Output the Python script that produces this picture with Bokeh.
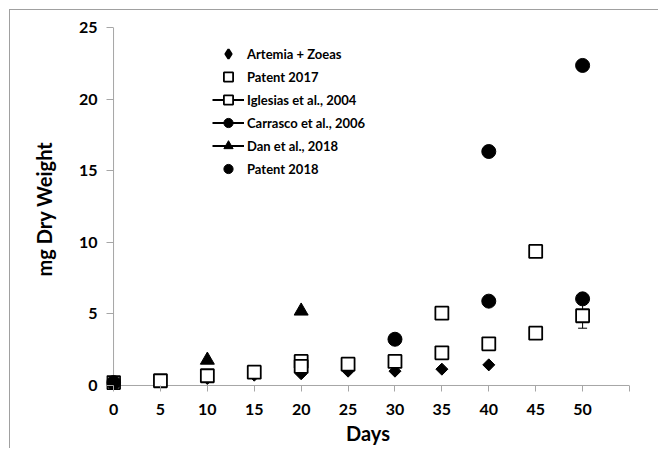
import numpy as np
from bokeh.plotting import figure
from bokeh.models import (FixedTicker, Legend, LegendItem, Whisker, ColumnDataSource,
                          TeeHead, Range1d, Span)
from bokeh.embed import file_html
from bokeh.resources import INLINE

# ---- data ----
days_artemia = [0, 10, 15, 20, 25, 30, 35, 40]
artemia_zoeas = [0.2, 0.49, 0.72, 0.82, 1.0, 1.0, 1.14, 1.44]

days_patent2017 = [0, 5, 10, 15, 20, 25, 30, 35, 40, 45, 50]
patent2017 = [0.2, 0.33, 0.68, 0.93, 1.33, 1.49, 1.68, 2.28, 2.91, 3.65, 4.87]

err_days = [50]
err_lower = [4.0]
err_upper = [5.74]

days_iglesias = [20, 35, 45]
iglesias2004 = [1.68, 5.05, 9.36]

days_carrasco = [30, 40, 50]
carrasco2006 = [3.23, 5.89, 6.05]

days_dan = [10, 20]
dan2018 = [1.77, 5.2]

days_patent2018 = [0, 40, 50]
patent2018 = [0.2, 16.34, 22.35]

x_ticks = [0, 5, 10, 15, 20, 25, 30, 35, 40, 45, 50, 55]
x_tick_labels = ["0", "5", "10", "15", "20", "25", "30", "35", "40", "45", "50", ""]
y_ticks = [0, 5, 10, 15, 20, 25]

AXIS_GRAY = "#a6a6a6"
TICK_FONT = "Lato"

p = figure(width=649, height=439, output_backend="svg", toolbar_location=None,
           x_range=Range1d(-0.75, 55), y_range=Range1d(-0.35, 25),
           min_border_left=96, min_border_right=30, min_border_top=17, min_border_bottom=59)
p.styles = {"margin-left": "9px", "margin-top": "9px",
            "border-left": "1px solid #a0a0a0", "border-top": "1px solid #a0a0a0"}
p.outline_line_color = None
p.xgrid.grid_line_color = None
p.ygrid.grid_line_color = None
p.background_fill_color = "white"
p.border_fill_color = "white"

# axes
xa = p.xaxis[0]
xa.ticker = FixedTicker(ticks=x_ticks)
xa.major_label_overrides = {t: lab for t, lab in zip(x_ticks, x_tick_labels)}
xa.axis_line_color = None
xa.major_tick_line_color = AXIS_GRAY
xa.major_tick_in = 5
xa.major_tick_out = 1
xa.minor_tick_line_color = None
xa.major_label_text_font = TICK_FONT
xa.major_label_text_font_style = "bold"
xa.major_label_text_font_size = "16px"
xa.major_label_text_color = "black"
xa.major_label_standoff = 12
xa.axis_label = "Days"
xa.axis_label_text_font = TICK_FONT
xa.axis_label_text_font_style = "bold"
xa.axis_label_text_font_size = "20px"
xa.axis_label_text_color = "black"
xa.axis_label_standoff = 3

ya = p.yaxis[0]
ya.ticker = FixedTicker(ticks=y_ticks)
ya.axis_line_color = None
ya.major_tick_line_color = AXIS_GRAY
ya.major_tick_in = 7
ya.major_tick_out = 0
ya.minor_tick_line_color = None
ya.major_label_text_font = TICK_FONT
ya.major_label_text_font_style = "bold"
ya.major_label_text_font_size = "16px"
ya.major_label_text_color = "black"
ya.major_label_standoff = 9
ya.axis_label = "mg Dry Weight"
ya.axis_label_text_font = TICK_FONT
ya.axis_label_text_font_style = "bold"
ya.axis_label_text_font_size = "20px"
ya.axis_label_text_color = "black"
ya.axis_label_standoff = 20

# axis lines at the zero positions
p.add_layout(Span(location=0, dimension="height", line_color=AXIS_GRAY, line_width=1, level="underlay"))
p.add_layout(Span(location=0, dimension="width", line_color=AXIS_GRAY, line_width=1, level="underlay"))

# error bar on Patent 2017 at day 50
err_src = ColumnDataSource(dict(base=err_days, lower=err_lower, upper=err_upper))
wh = Whisker(source=err_src, base="base", lower="lower", upper="upper", dimension="height",
             line_color="black", line_width=1,
             upper_head=TeeHead(size=9, line_color="black", line_width=1),
             lower_head=TeeHead(size=9, line_color="black", line_width=1),
             level="underlay")
p.add_layout(wh)

r_art = p.scatter(days_artemia, artemia_zoeas, marker="square", angle=np.pi / 4, size=8.5,
                  fill_color="black", line_color="black", line_width=1)
r_igl = p.scatter(days_iglesias, iglesias2004, marker="square", size=13,
                  fill_color="white", line_color="black", line_width=1.8)
r_p17 = p.scatter(days_patent2017, patent2017, marker="square", size=13,
                  fill_color="white", line_color="black", line_width=1.8)
r_car = p.scatter(days_carrasco, carrasco2006, marker="circle", size=14,
                  fill_color="black", line_color="black", line_width=1)
r_dan = p.scatter(days_dan, dan2018, marker="triangle", size=14,
                  fill_color="black", line_color="black", line_width=1)
r_p18 = p.scatter(days_patent2018, patent2018, marker="circle", size=14,
                  fill_color="black", line_color="black", line_width=1)

# legend-only samples (no connecting lines are visible in the chart;
# legend markers ignore rotation, so the diamond key uses a diamond marker)
nan_pt = [float("nan")]
k_art = p.scatter(nan_pt, nan_pt, marker="diamond", size=12,
                  fill_color="black", line_color="black", line_width=2.2)
l_igl = p.line(nan_pt, nan_pt, line_color="black", line_width=2)
l_car = p.line(nan_pt, nan_pt, line_color="black", line_width=2)
l_dan = p.line(nan_pt, nan_pt, line_color="black", line_width=2)

legend = Legend(items=[
    LegendItem(label="Artemia + Zoeas", renderers=[k_art]),
    LegendItem(label="Patent 2017", renderers=[r_p17]),
    LegendItem(label="Iglesias et al., 2004", renderers=[l_igl, r_igl]),
    LegendItem(label="Carrasco et al., 2006", renderers=[l_car, r_car]),
    LegendItem(label="Dan et al., 2018", renderers=[l_dan, r_dan]),
    LegendItem(label="Patent 2018", renderers=[r_p18]),
], location=(106, 210))
legend.background_fill_alpha = 0
legend.border_line_color = None
legend.label_text_font = TICK_FONT
legend.label_text_font_style = "bold"
legend.label_text_font_size = "13px"
legend.label_text_color = "black"
legend.glyph_width = 32
legend.glyph_height = 23
legend.spacing = 0
legend.label_standoff = 3
legend.padding = 0
legend.margin = 0
p.add_layout(legend)

open("out.html", "w").write(file_html(p, INLINE))
